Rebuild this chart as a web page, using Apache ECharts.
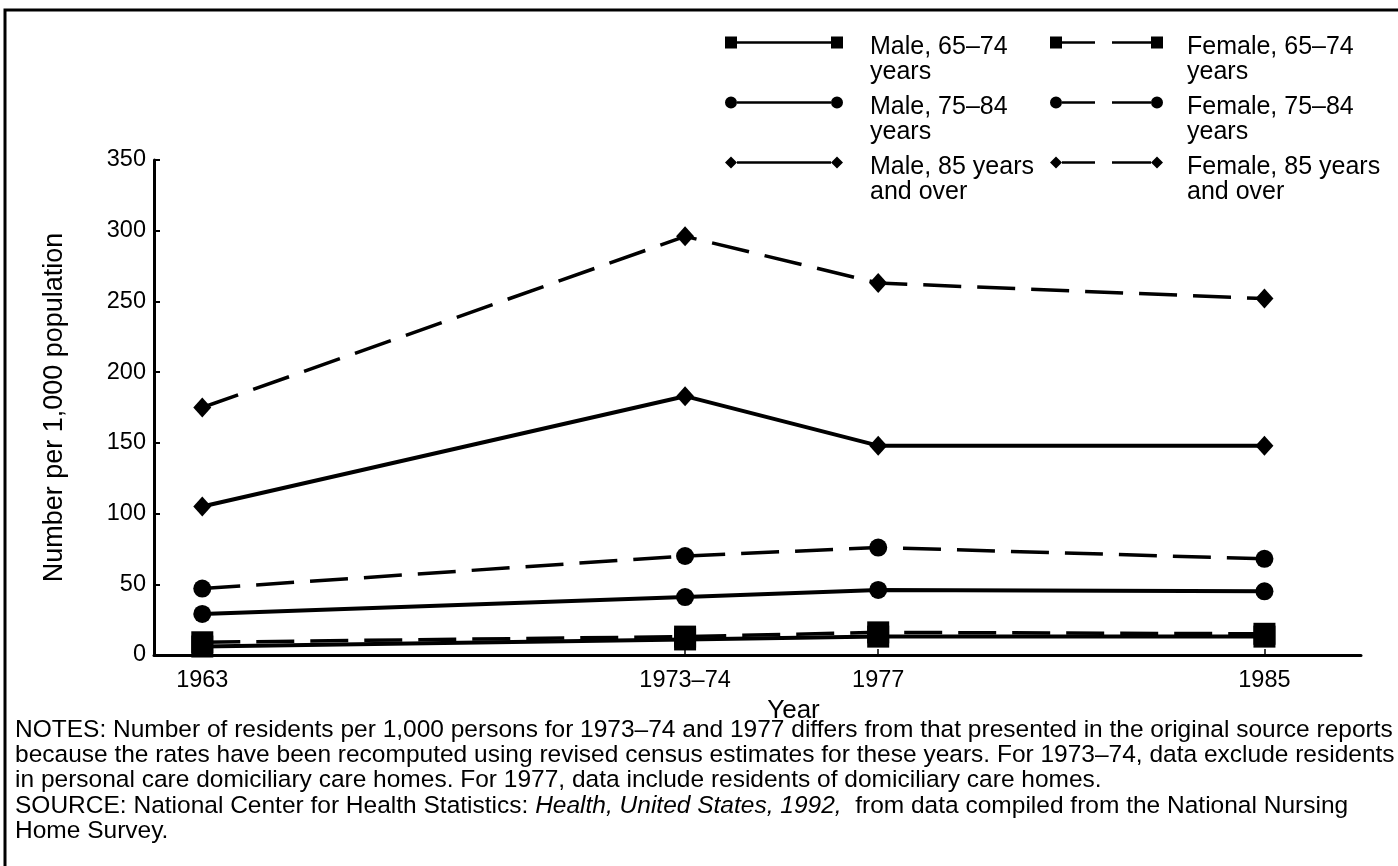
<!DOCTYPE html>
<html>
<head>
<meta charset="utf-8">
<title>Nursing home residents per 1,000 population</title>
<script src="https://cdn.jsdelivr.net/npm/echarts@6/dist/echarts.min.js"></script>
<style>
  html, body { margin: 0; padding: 0; background: #fff; }
  #chart { width: 1398px; height: 866px; }
</style>
</head>
<body>
<div id="chart"></div>
<script>
// 年份（1973-74 画在 1973 的位置）
const years = [1963, 1973, 1977, 1985]
const yearLabels = ['1963', '1973–74', '1977', '1985']

// 每千人数
const male6574 = [6, 11, 13, 13]
const female6574 = [9, 13, 16, 15]
const male7584 = [29, 41, 46, 45]
const female7584 = [47, 70, 76, 68]
const male85 = [105, 183, 148, 148]
const female85 = [175, 296, 263, 252]

const maleNames = ['Male, 65–74\nyears', 'Male, 75–84\nyears', 'Male, 85 years\nand over']
const femaleNames = ['Female, 65–74\nyears', 'Female, 75–84\nyears', 'Female, 85 years\nand over']

const notesText = [
  'NOTES: Number of residents per 1,000 persons for 1973–74 and 1977 differs from that presented in the original source reports',
  'because the rates have been recomputed using revised census estimates for these years. For 1973–74, data exclude residents',
  'in personal care domiciliary care homes. For 1977, data include residents of domiciliary care homes.'
]

const FONT = '"Liberation Sans", Arial, Helvetica, sans-serif'

// 图例图标：两端标记 + 实线/虚线
const circleAt = x => 'M' + x + ' 6a6 6 0 1 1 12 0a6 6 0 1 1 -12 0z'
const squareAt = x => 'M' + x + ' 0h12v12h-12z'
const diamondAt = x => 'M' + x + ' 6l6 -6l6 6l-6 6z'
const solidBar = 'M12 4.75h94v2.5h-94z'
const dashBar = 'M12 4.75h33v2.5h-33z M62 4.75h39v2.5h-39z'
const maleIcons = [
  'path://' + squareAt(0) + solidBar + squareAt(106),
  'path://' + circleAt(0) + solidBar + circleAt(106),
  'path://' + diamondAt(0) + solidBar + diamondAt(106)
]
const femaleIcons = [
  'path://' + squareAt(0) + dashBar + squareAt(101),
  'path://' + circleAt(0) + dashBar + circleAt(101),
  'path://' + diamondAt(0) + dashBar + diamondAt(101)
]

const toPoints = vals => vals.map((v, i) => [years[i], v])

const makeSeries = (name, vals, symbol, size, dashed) => ({
  name: name,
  type: 'line',
  data: toPoints(vals),
  symbol: symbol,
  symbolSize: size,
  showSymbol: true,
  itemStyle: { color: '#000' },
  lineStyle: dashed
    ? { color: '#000', width: 3.5, type: [38, 16] }
    : { color: '#000', width: 4 },
  z: 3
})

// 图例文字：第一行与图标对齐，第二行在下方
const legendFormatter = name => '{s| }\n' + name.split('\n').map(l => '{t|' + l + '}').join('\n')

const legendText = pad => ({
  fontFamily: FONT,
  fontSize: 25,
  color: '#000',
  padding: [0, 0, 0, pad],
  rich: {
    s: { fontSize: 1, lineHeight: 35 },
    t: { fontFamily: FONT, fontSize: 25, lineHeight: 25, color: '#000' }
  }
})

const chart = echarts.init(document.getElementById('chart'))

const option = {
  animation: false,
  backgroundColor: '#fff',
  textStyle: { fontFamily: FONT, color: '#000' },
  grid: { left: 154, right: 37, top: 160, bottom: 211 },
  legend: [
    {
      orient: 'vertical',
      left: 725,
      top: 17,
      padding: 0,
      itemGap: -8,
      itemWidth: 118,
      itemHeight: 12,
      selectedMode: false,
      formatter: legendFormatter,
      textStyle: legendText(22),
      data: maleNames.map((n, i) => ({ name: n, icon: maleIcons[i] }))
    },
    {
      orient: 'vertical',
      left: 1050,
      top: 17,
      padding: 0,
      itemGap: -8,
      itemWidth: 113,
      itemHeight: 12,
      selectedMode: false,
      formatter: legendFormatter,
      textStyle: legendText(19),
      data: femaleNames.map((n, i) => ({ name: n, icon: femaleIcons[i] }))
    }
  ],
  xAxis: {
    type: 'value',
    min: 1962,
    max: 1987,
    name: 'Year',
    nameLocation: 'middle',
    nameGap: 36,
    nameTextStyle: { fontSize: 26, color: '#000', padding: [0, 0, 0, 72] },
    axisLine: { show: true, lineStyle: { color: '#000', width: 3 } },
    axisTick: { show: true, inside: true, length: 6, customValues: years, lineStyle: { color: '#000', width: 1.5 } },
    axisLabel: {
      customValues: years,
      formatter: v => yearLabels[years.indexOf(v)],
      fontSize: 23.5,
      color: '#000',
      margin: 14
    },
    splitLine: { show: false }
  },
  yAxis: {
    type: 'value',
    min: 0,
    max: 350,
    interval: 50,
    name: 'Number per 1,000 population',
    nameLocation: 'middle',
    nameGap: 86,
    nameTextStyle: { fontSize: 27, color: '#000' },
    axisLine: { show: true, lineStyle: { color: '#000', width: 3 } },
    axisTick: { show: true, inside: true, length: 6, lineStyle: { color: '#000', width: 2 } },
    axisLabel: { fontSize: 23.5, color: '#000', margin: 8 },
    splitLine: { show: false }
  },
  series: [
    makeSeries(maleNames[0], male6574, 'rect', 22, false),
    makeSeries(maleNames[1], male7584, 'circle', 18, false),
    makeSeries(maleNames[2], male85, 'diamond', [18, 20], false),
    makeSeries(femaleNames[0], female6574, 'rect', 22, true),
    makeSeries(femaleNames[1], female7584, 'circle', 18, true),
    makeSeries(femaleNames[2], female85, 'diamond', [18, 20], true)
  ],
  graphic: [
    {
      type: 'polyline',
      shape: { points: [[5, 866], [5, 10], [1398, 10]] },
      style: { stroke: '#000', lineWidth: 3, fill: null }
    },
    {
      type: 'text',
      left: 15,
      top: 718,
      style: { text: notesText.join('\n'), font: '24.5px ' + FONT, lineHeight: 25, fill: '#000' }
    },
    {
      type: 'text',
      left: 15,
      top: 794,
      style: {
        text: '{n|SOURCE: National Center for Health Statistics: }{i|Health, United States, 1992,}{n|  from data compiled from the National Nursing}\n{n|Home Survey.}',
        fill: '#000',
        rich: {
          n: { fontFamily: FONT, fontSize: 24.5, lineHeight: 25, fill: '#000' },
          i: { fontFamily: FONT, fontSize: 24.5, lineHeight: 25, fontStyle: 'italic', fill: '#000' }
        }
      }
    }
  ]
}

chart.setOption(option)
window.addEventListener('resize', () => chart.resize())
</script>
</body>
</html>
